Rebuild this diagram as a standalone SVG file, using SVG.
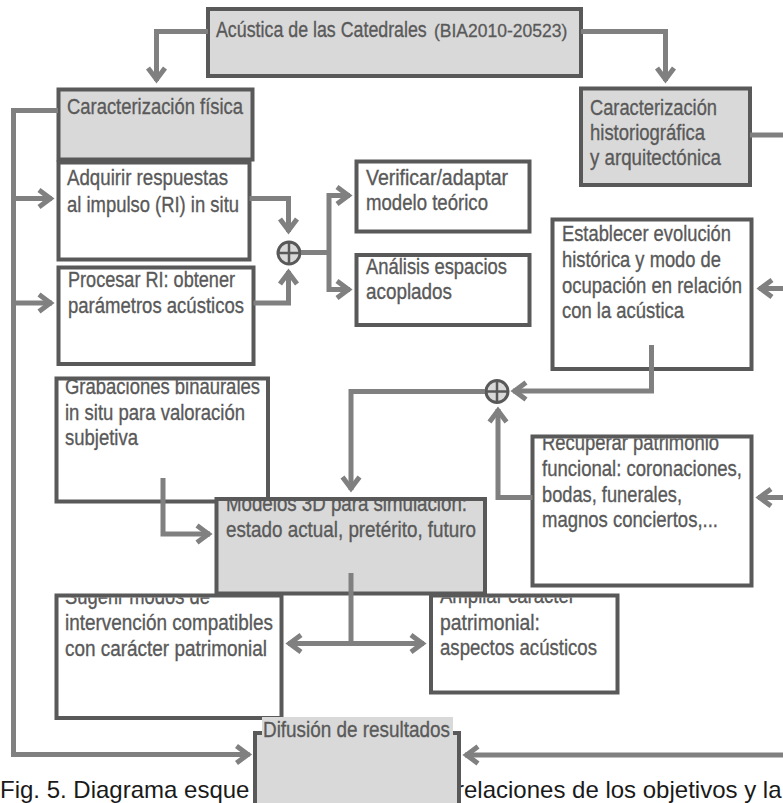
<svg xmlns="http://www.w3.org/2000/svg" width="783" height="803" viewBox="0 0 783 803">
<style>
.box{fill:#ffffff;stroke:#595959;stroke-width:4}
.gbox{fill:#d9d9d9;stroke:#595959;stroke-width:4}
.t{font-family:"Liberation Sans",Arial,sans-serif;font-size:22px;fill:#595959;stroke:#595959;stroke-width:0.35}
.ts{font-family:"Liberation Sans",Arial,sans-serif;font-size:17.5px;fill:#595959;stroke:#595959;stroke-width:0.3}
.c{fill:none;stroke:#808080;stroke-width:5}
.a{marker-end:url(#ah)}
.aa{marker-start:url(#ah);marker-end:url(#ah)}
.plus circle{fill:#d9d9d9;stroke:#595959;stroke-width:3}
.plus path{stroke:#595959;stroke-width:2.5;fill:none}
.cap{font-family:"Liberation Sans",Arial,sans-serif;font-size:24px;fill:#1a1a1a}
</style>
<defs>
<marker id="ah" viewBox="-20 -12 26 24" refX="0" refY="0" markerWidth="26" markerHeight="24" markerUnits="userSpaceOnUse" orient="auto-start-reverse">
<path d="M-13,-8.5 L-1.6,0 L-13,8.5" fill="none" stroke="#808080" stroke-width="5"/>
</marker>
<clipPath id="clipModelos"><rect x="218.5" y="501" width="264.5" height="90.5"/></clipPath>
<clipPath id="clipSugerir"><rect x="58.5" y="597.5" width="221" height="118.5"/></clipPath>
<clipPath id="clipAmpliar"><rect x="433" y="597.5" width="182.5" height="93"/></clipPath>
<clipPath id="clipRecuperar"><rect x="534.5" y="438.5" width="215" height="145"/></clipPath>
</defs>
<rect width="783" height="803" fill="#ffffff"/>

<text class="cap" x="0" y="798">Fig. 5. Diagrama esque</text>
<text class="cap" x="456" y="798">relaciones de los objetivos y la</text>

<g id="n-top">
<rect class="gbox" x="208" y="9" width="373" height="67"/>
<text class="t" transform="translate(216,37) scale(0.81,1)" x="0" y="0">Acústica de las Catedrales</text>
<text class="ts" x="434" y="37">(BIA2010-20523)</text>
</g>

<g id="n-fisica">
<rect class="gbox" x="58.5" y="89.5" width="194" height="70"/>
<text class="t" x="67" y="114" textLength="176" lengthAdjust="spacingAndGlyphs">Caracterización física</text>
</g>

<g id="n-historio">
<rect class="gbox" x="581" y="88.5" width="169" height="96.5"/>
<text class="t" x="590" y="115" textLength="127" lengthAdjust="spacingAndGlyphs">Caracterización</text>
<text class="t" x="590" y="140" textLength="115" lengthAdjust="spacingAndGlyphs">historiográfica</text>
<text class="t" x="590" y="165" textLength="131" lengthAdjust="spacingAndGlyphs">y arquitectónica</text>
</g>

<g id="n-adquirir">
<rect class="box" x="58.5" y="162.5" width="191" height="97"/>
<text class="t" x="67" y="185" textLength="161" lengthAdjust="spacingAndGlyphs">Adquirir respuestas</text>
<text class="t" x="67" y="212" textLength="172" lengthAdjust="spacingAndGlyphs">al impulso (RI) in situ</text>
</g>

<g id="n-procesar">
<rect class="box" x="58.5" y="267.5" width="195" height="96.5"/>
<text class="t" x="68" y="287" textLength="167" lengthAdjust="spacingAndGlyphs">Procesar RI: obtener</text>
<text class="t" x="68" y="313" textLength="176" lengthAdjust="spacingAndGlyphs">parámetros acústicos</text>
</g>

<g id="n-verificar">
<rect class="box" x="356.5" y="161.5" width="173" height="70"/>
<text class="t" x="366" y="185" textLength="142" lengthAdjust="spacingAndGlyphs">Verificar/adaptar</text>
<text class="t" x="366" y="210" textLength="122" lengthAdjust="spacingAndGlyphs">modelo teórico</text>
</g>

<g id="n-analisis">
<rect class="box" x="356.5" y="255" width="173" height="70"/>
<text class="t" x="366" y="274" textLength="141" lengthAdjust="spacingAndGlyphs">Análisis espacios</text>
<text class="t" x="366" y="299" textLength="86" lengthAdjust="spacingAndGlyphs">acoplados</text>
</g>

<g id="n-establecer">
<rect class="box" x="552.5" y="219.5" width="199" height="149.5"/>
<text class="t" x="562" y="241" textLength="169" lengthAdjust="spacingAndGlyphs">Establecer evolución</text>
<text class="t" x="562" y="267" textLength="159" lengthAdjust="spacingAndGlyphs">histórica y modo de</text>
<text class="t" x="562" y="293" textLength="180" lengthAdjust="spacingAndGlyphs">ocupación en relación</text>
<text class="t" x="562" y="318" textLength="122" lengthAdjust="spacingAndGlyphs">con la acústica</text>
</g>

<g id="n-grabaciones">
<rect class="box" x="56.5" y="378.5" width="211.5" height="123"/>
<text class="t" x="65" y="394" textLength="195" lengthAdjust="spacingAndGlyphs">Grabaciones binaurales</text>
<text class="t" x="65" y="420" textLength="180" lengthAdjust="spacingAndGlyphs">in situ para valoración</text>
<text class="t" x="65" y="445" textLength="73" lengthAdjust="spacingAndGlyphs">subjetiva</text>
</g>

<g id="n-recuperar">
<rect class="box" x="532.5" y="436.5" width="219" height="149"/>
<g clip-path="url(#clipRecuperar)">
<text class="t" x="542" y="450" textLength="177" lengthAdjust="spacingAndGlyphs">Recuperar patrimonio</text>
<text class="t" x="542" y="476" textLength="200" lengthAdjust="spacingAndGlyphs">funcional: coronaciones,</text>
<text class="t" x="542" y="502" textLength="140" lengthAdjust="spacingAndGlyphs">bodas, funerales,</text>
<text class="t" x="542" y="527" textLength="176" lengthAdjust="spacingAndGlyphs">magnos conciertos,...</text>
</g>
</g>

<g id="n-modelos">
<rect class="gbox" x="216.5" y="499" width="268.5" height="94.5"/>
<g clip-path="url(#clipModelos)">
<text class="t" x="226" y="511" textLength="241" lengthAdjust="spacingAndGlyphs">Modelos 3D para simulación:</text>
<text class="t" x="226" y="537" textLength="250" lengthAdjust="spacingAndGlyphs">estado actual, pretérito, futuro</text>
</g>
</g>

<g id="n-sugerir">
<rect class="box" x="56.5" y="595.5" width="225" height="122.5"/>
<g clip-path="url(#clipSugerir)">
<text class="t" x="65" y="604" textLength="145" lengthAdjust="spacingAndGlyphs">Sugerir modos de</text>
<text class="t" x="65" y="630" textLength="208" lengthAdjust="spacingAndGlyphs">intervención compatibles</text>
<text class="t" x="65" y="656" textLength="202" lengthAdjust="spacingAndGlyphs">con carácter patrimonial</text>
</g>
</g>

<g id="n-ampliar">
<rect class="box" x="431" y="595.5" width="186.5" height="97"/>
<g clip-path="url(#clipAmpliar)">
<text class="t" x="440" y="603" textLength="135" lengthAdjust="spacingAndGlyphs">Ampliar carácter</text>
<text class="t" x="440" y="630" textLength="100" lengthAdjust="spacingAndGlyphs">patrimonial:</text>
<text class="t" x="440" y="655" textLength="157" lengthAdjust="spacingAndGlyphs">aspectos acústicos</text>
</g>
</g>

<g id="n-difusion">
<rect class="gbox" x="255" y="733" width="204" height="90"/>
<rect x="262" y="717" width="191" height="30" fill="#d9d9d9"/>
<text class="t" x="263" y="737" textLength="187" lengthAdjust="spacingAndGlyphs">Difusión de resultados</text>
</g>

<g id="n-plus1" class="plus">
<circle cx="289" cy="253" r="11"/>
<path d="M278,253 H300 M289,242 V264"/>
</g>
<g id="n-plus2" class="plus">
<circle cx="497" cy="391.5" r="11"/>
<path d="M486,391.5 H508 M497,380.5 V402.5"/>
</g>

<g id="connectors">
<path class="c a" d="M208,31.5 H156.5 V81"/>
<path class="c a" d="M581,31.5 H665.5 V81"/>
<path class="c a" d="M58,110.5 H13.5 V754.5 H249.5"/>
<path class="c a" d="M13.5,198.5 H52"/>
<path class="c a" d="M13.5,303 H52"/>
<path class="c a" d="M249.5,198.5 H288.5 V232"/>
<path class="c a" d="M253.5,303 H288.5 V271"/>
<path class="c" d="M301,252.5 H329"/>
<path class="c aa" d="M350,195.5 H329 V289.5 H350"/>
<path class="c" d="M750,135 H790"/>
<path class="c a" d="M790,288.5 H759"/>
<path class="c a" d="M790,497.5 H758"/>
<path class="c a" d="M790,755 H465"/>
<path class="c a" d="M651.5,345 V391 H513"/>
<path class="c a" d="M532.5,497.5 H498 V409"/>
<path class="c a" d="M485,391.5 H351 V490"/>
<path class="c a" d="M163,478 V534 H210"/>
<path class="c" d="M351,573 V643.5"/>
<path class="c aa" d="M288,643.5 H424"/>
</g>
</svg>
